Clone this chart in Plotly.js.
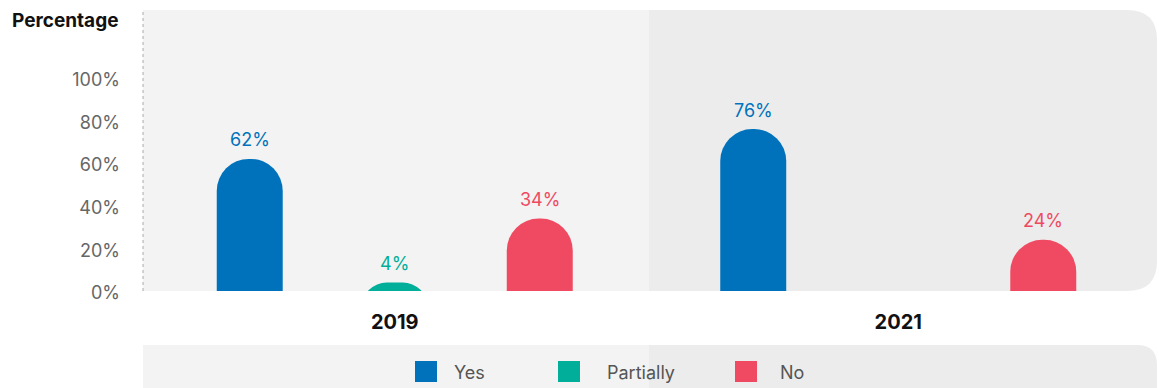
<!DOCTYPE html>
<html>
<head>
<meta charset="utf-8">
<script src="https://cdn.plot.ly/plotly-3.0.1.min.js"></script>
<style>
  html, body { margin: 0; padding: 0; background: #ffffff; }
  #chart { width: 1159px; height: 388px; }
</style>
</head>
<body>
<div id="chart"></div>
<script>
// ---- data ----
const years = ['2019', '2021'];
const seriesNames = ['Yes', 'Partially', 'No'];
const yesValues = [62, 76];
const partiallyValues = [4, null];
const noValues = [34, 24];
const seriesColors = ['#0072bc', '#00ae9a', '#ef4a62'];
const yTickValues = [0, 20, 40, 60, 80, 100];
const yTickLabels = ['0%', '20%', '40%', '60%', '80%', '100%'];
const yAxisTitle = 'Percentage';

const seriesValues = [yesValues, partiallyValues, noValues];

// ---- layout constants ----
const W = 1159, H = 388;
const M = { l: 143, r: 9, t: 10, b: 97 };
const plotW = W - M.l - M.r, plotH = H - M.t - M.b;
const px = x => (x - M.l) / plotW;          // page px -> paper x
const py = y => (H - M.b - y) / plotH;      // page px -> paper y
const FONT = 'Inter, Lato, sans-serif';
const bargap = 0.136;
const slot = (1 - bargap) / seriesNames.length;
const yMax = 131.9;
// bars start below the visible baseline so that the round cap keeps its full
// radius and short bars show as a clipped dome (as in the original)
const hiddenDepth = 20;

const traces = seriesNames.map((name, j) => ({
  type: 'bar',
  name: name,
  x: years,
  y: seriesValues[j].map(v => (v === null ? null : v + hiddenDepth)),
  base: -hiddenDepth,
  marker: { color: seriesColors[j], cornerradius: '50%', line: { width: 0 } },
  hoverinfo: 'skip',
  showlegend: false
}));

// value labels above bars
const annotations = [];
seriesNames.forEach((name, j) => {
  seriesValues[j].forEach((v, i) => {
    if (v === null || v === undefined) return;
    annotations.push({
      xref: 'x', yref: 'y',
      x: i + (j - (seriesNames.length - 1) / 2) * slot,
      y: v, yshift: 19,
      text: v + '%', showarrow: false,
      font: { family: FONT, size: 18, color: seriesColors[j] }
    });
  });
});

// y axis title
annotations.push({
  xref: 'paper', yref: 'paper', x: px(120), y: py(21),
  xanchor: 'right', yanchor: 'middle', showarrow: false,
  text: '<b>' + yAxisTitle + '</b>',
  font: { family: FONT, size: 19, color: '#111111' }
});

// panels
const split = px(649), right = px(1157);
const rx = 30 / plotW, ry = 30 / plotH;
const lt = py(345), lb = py(420);
const lrx = 20 / plotW, lry = 20 / plotH;
const shapes = [
  { type: 'rect', xref: 'paper', yref: 'paper', x0: 0, x1: split, y0: 0, y1: 1,
    fillcolor: '#f3f3f3', line: { width: 0 }, layer: 'below' },
  { type: 'path', xref: 'paper', yref: 'paper', layer: 'below',
    path: `M ${split},0 L ${split},1 L ${right - rx},1 Q ${right},1 ${right},${1 - ry} L ${right},${ry} Q ${right},0 ${right - rx},0 Z`,
    fillcolor: '#ececec', line: { width: 0 } },
  { type: 'line', xref: 'paper', yref: 'paper', x0: 0, x1: 0, y0: 0, y1: 1,
    line: { color: '#aaaaaa', width: 1, dash: 'dot' }, layer: 'above' },
  // legend box
  { type: 'rect', xref: 'paper', yref: 'paper', x0: 0, x1: split, y0: lb, y1: lt,
    fillcolor: '#f3f3f3', line: { width: 0 }, layer: 'below' },
  { type: 'path', xref: 'paper', yref: 'paper', layer: 'below',
    path: `M ${split},${lb} L ${split},${lt} L ${right - lrx},${lt} Q ${right},${lt} ${right},${lt - lry} L ${right},${lb} Z`,
    fillcolor: '#ececec', line: { width: 0 } }
];

// legend entries
const legendSwatchX = [415, 558, 735];
const legendTextX = [452, 605, 778];
seriesNames.forEach((name, j) => {
  shapes.push({ type: 'rect', xref: 'paper', yref: 'paper',
    x0: px(legendSwatchX[j]), x1: px(legendSwatchX[j] + 22), y0: py(382), y1: py(361),
    fillcolor: seriesColors[j], line: { width: 0 }, layer: 'above' });
  annotations.push({ xref: 'paper', yref: 'paper', x: px(legendTextX[j]), y: py(372),
    xanchor: 'left', yanchor: 'middle', showarrow: false, text: name,
    font: { family: FONT, size: 18, color: '#555555' } });
});

const layout = {
  width: W, height: H,
  margin: M,
  paper_bgcolor: '#ffffff',
  plot_bgcolor: 'rgba(0,0,0,0)',
  barmode: 'group',
  bargap: bargap,
  bargroupgap: 0.545,
  showlegend: false,
  font: { family: FONT },
  xaxis: {
    type: 'category', range: [-0.5, 1.5],
    showgrid: false, zeroline: false, showline: false, ticks: '',
    tickfont: { family: FONT, size: 20, color: '#111111', weight: 'bold' },
    ticklabelstandoff: 17, fixedrange: true
  },
  yaxis: {
    range: [0, yMax],
    tickvals: yTickValues, ticktext: yTickLabels,
    showgrid: false, zeroline: false, showline: false, ticks: '',
    tickfont: { family: FONT, size: 18, color: '#666666' },
    ticklabelstandoff: 22, ticklabelshift: 2, fixedrange: true
  },
  shapes: shapes,
  annotations: annotations
};

Plotly.newPlot('chart', traces, layout, { displayModeBar: false, staticPlot: true });
</script>
</body>
</html>
